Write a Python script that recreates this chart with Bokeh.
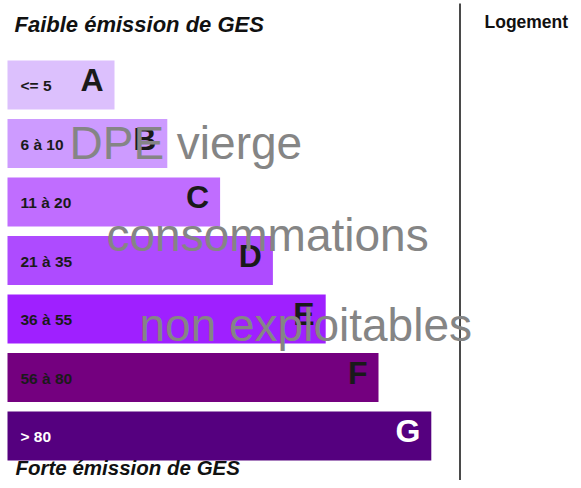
from bokeh.plotting import figure
from bokeh.models import Range1d, ColumnDataSource
from bokeh.core.properties import value
from bokeh.embed import file_html
from bokeh.resources import INLINE

# ---- data ----
classes = ["A", "B", "C", "D", "E", "F", "G"]
ranges = ["<= 5", "6 à 10", "11 à 20", "21 à 35", "36 à 55", "56 à 80", "> 80"]
bar_colors = ["#dcc0fd", "#cd9bff", "#c06dff", "#ae4bff", "#9f20ff", "#74007f", "#55007f"]
label_colors = ["#1a1a1a", "#1a1a1a", "#1a1a1a", "#1a1a1a", "#1a1a1a", "#1a1a1a", "#ffffff"]
title_top = "Faible émission de GES"
title_bottom = "Forte émission de GES"
column_title = "Logement"
overlay_lines = ["DPE vierge", "consommations", "non exploitables"]

# ---- layout (pixel coordinates of the picture) ----
W, H = 573, 480
K = 0.38  # baseline correction, fraction of font size


def base(y, size):
    return y - K * size


p = figure(width=W, height=H, x_range=Range1d(0, W), y_range=Range1d(H, 0),
           output_backend="svg", toolbar_location=None, min_border=0,
           x_axis_type=None, y_axis_type=None, background_fill_color="white",
           border_fill_color="white", outline_line_color=None)
p.grid.visible = False

n = len(classes)
left = [7] * n
right = [114 + 52.8 * i for i in range(n)]
top = [60 + 58.5 * i for i in range(n)]
bottom = [t + 49 for t in top]
centre = [(t + b) / 2 for t, b in zip(top, bottom)]

LAB, LET = 15.5, 32
src = ColumnDataSource(dict(
    left=left, right=right, top=top, bottom=bottom,
    cls=classes, rng=ranges, color=bar_colors, lcolor=label_colors,
    ylab=[base(c + 6.5, LAB) for c in centre], ylet=[base(c + 7.5, LET) for c in centre],
    xlab=[20] * n, xlet=[r - 11 for r in right],
))

p.quad(left="left", right="right", top="top", bottom="bottom", source=src,
       fill_color="color", line_color=None)

p.text(x="xlab", y="ylab", text="rng", source=src, text_color="lcolor",
       text_font=value("Liberation Sans"), text_font_style="bold",
       text_font_size=f"{LAB}px", text_align="left", text_baseline="alphabetic")

p.text(x="xlet", y="ylet", text="cls", source=src, text_color="lcolor",
       text_font=value("Liberation Sans"), text_font_style="bold",
       text_font_size=f"{LET}px", text_align="right", text_baseline="alphabetic")

# headers
p.text(x=[14], y=[base(32, 22)], text=[title_top], text_color="#111111",
       text_font=value("Liberation Sans"), text_font_style="bold italic",
       text_font_size="22px", text_align="left", text_baseline="alphabetic")
p.text(x=[15], y=[base(475, 20.5)], text=[title_bottom], text_color="#111111",
       text_font=value("Liberation Sans"), text_font_style="bold italic",
       text_font_size="20.5px", text_align="left", text_baseline="alphabetic")

p.text(x=[484], y=[base(28, 17.5)], text=[column_title], text_color="#111111",
       text_font=value("Liberation Sans"), text_font_style="bold",
       text_font_size="17.5px", text_align="left", text_baseline="alphabetic")

# separator line
p.segment(x0=[459.5], y0=[3], x1=[459.5], y1=[H + 2], line_color="#4a4a4a", line_width=2)

# overlay text
p.text(x=[69, 106, 139], y=[base(160, 46), base(252, 46), base(342, 46)],
       text=overlay_lines, text_color="#858585",
       text_font=value("Liberation Sans"), text_font_size="46px",
       text_align="left", text_baseline="alphabetic")

open("out.html", "w").write(file_html(p, INLINE))
